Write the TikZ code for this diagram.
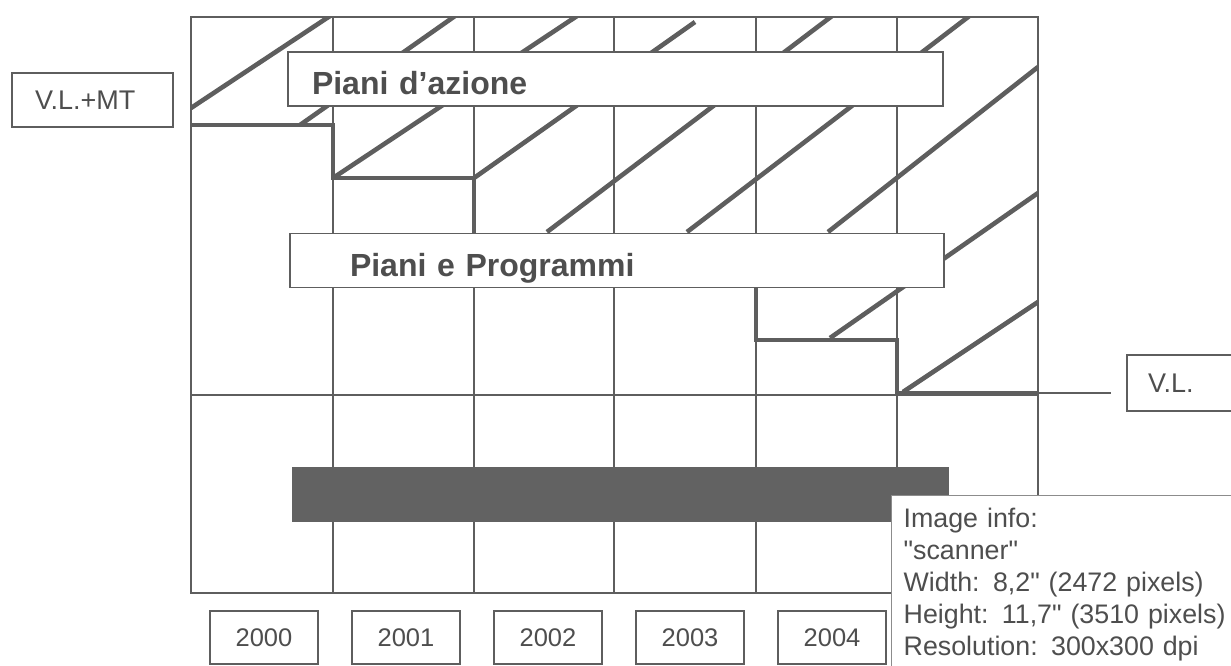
\documentclass[tikz,border=0pt]{standalone}
\usepackage{fontspec}
\setmainfont{Liberation Sans}
\newfontfamily\infofont{Liberation Sans}[Ligatures=TeXOff]
\usetikzlibrary{positioning}

\definecolor{scan}{HTML}{5E5E5E}
\definecolor{scanfill}{HTML}{626262}
\definecolor{testo}{HTML}{4E4E4E}
\definecolor{infobordo}{HTML}{8C8C8C}

\begin{document}
\begin{tikzpicture}[x=1pt, y=-1pt,
  riga/.style={draw=scan, line width=1.7pt},
  tratto/.style={draw=scan, line width=4.6pt},
  casella/.style={draw=scan, line width=1.7pt, fill=white, text=testo, inner ysep=0pt, align=left},
  fascia/.style={casella, minimum height=54pt, font=\fontsize{32}{36}\selectfont\bfseries, text height=31pt, text depth=0pt},
  anno/.style={casella, align=center, minimum width=108pt, minimum height=53pt, font=\fontsize{25.5}{30}\selectfont}]

\useasboundingbox (0,0) rectangle (1231,666);

% Raster
\draw[riga] (191,17) rectangle (1038,593);
\foreach \x in {333,474,614,756,897}
  \draw[riga] (\x,17) -- (\x,593);
\draw[riga] (191,395) -- (1038,395);

% Tratteggio e gradino
\begin{scope}
\clip (191,17) rectangle (1038,593);
\foreach \xa/\ya/\xb/\yb in {191/108/330/16, 300/125/455/16, 333/178/577/16,
    474/178/695/22, 547/232/832/16, 687/232/972/14, 828/232/1038/67,
    830/338/1038/193, 903/392/1038/302}
  \draw[tratto] (\xa,\ya) -- (\xb,\yb);
\draw[tratto] (191,125) -- (333,125) -- (333,178) -- (474,178) -- (474,260)
  -- (756,260) -- (756,340) -- (897,340) -- (897,393) -- (1038,393);
\end{scope}

% Fasce
\node[fascia, text width=607pt, inner xsep=24pt] (azione) at (615.5,79) {Piani d’azione};
\node[fascia, text width=594pt, inner xsep=30pt] (programmi) at (617,260.5) {\hspace*{30pt}Piani e Programmi};
\node[fill=scanfill, minimum width=657pt, minimum height=55pt, inner sep=0pt] (barra) at (620.5,494.5) {};

% Livelli
\node[casella, minimum height=54pt, text width=115pt, inner xsep=23pt, font=\fontsize{27}{32}\selectfont] (vlmt) at (92.5,100) {V.L.+MT};
\node[casella, minimum height=56pt, text width=68pt, inner xsep=21pt, font=\fontsize{27}{32}\selectfont] (vl) at (1182,383) {V.L.};
\coordinate (vlpiede) at (1038,393);
\draw[riga, shorten >=15pt] (vlpiede) -- (vlpiede -| vl.west);

% Anni
\foreach \a [count=\i from 0] in {2000,...,2004}
  \node[anno] (a\a) at (264+142*\i,637.5) {\a};

% Info
\node[draw=infobordo, line width=1.3pt, fill=white, anchor=north west, text width=340pt,
  inner xsep=12pt, inner ysep=12pt, align=left, text=testo, text depth=170pt,
  font=\infofont\fontsize{26.8}{32}\selectfont] (info) at (891,495)
  {Image info:\\"scanner"\\Width: 8,2" (2472 pixels)\\Height: 11,7" (3510 pixels)\\Resolution: 300x300 dpi};

\end{tikzpicture}
\end{document}
